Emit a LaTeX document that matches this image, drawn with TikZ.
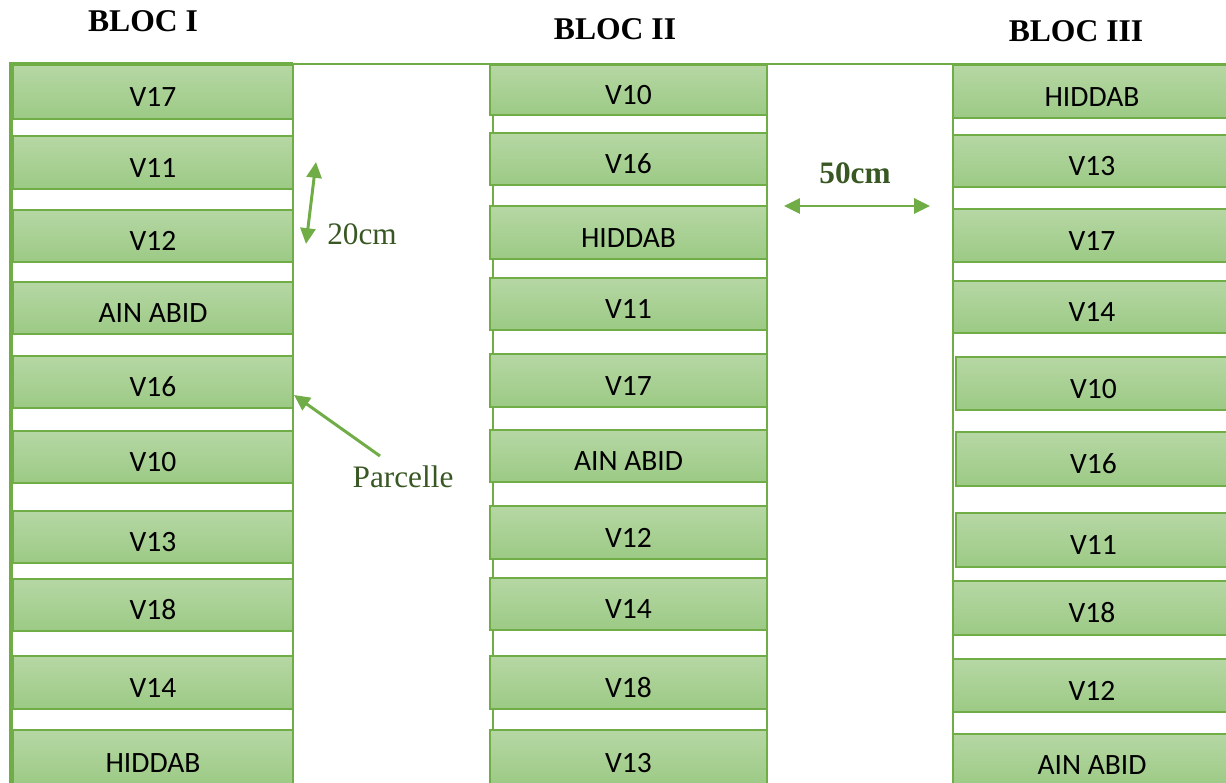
\documentclass[tikz,border=0pt]{standalone}
\usepackage{fontspec}
\setmainfont{Liberation Serif}
\newfontfamily\parcelfont{Carlito}
\usepackage{tikz}
\usetikzlibrary{
    arrows.meta,
    positioning
}
\definecolor{grline}{HTML}{70AD47}
\definecolor{grtop}{HTML}{B6D7A4}
\definecolor{grbot}{HTML}{9CCA85}
\definecolor{grtext}{HTML}{385723}

\begin{document}
\begin{tikzpicture}[x=0.02cm, y=-0.02cm, >={Triangle[length=9pt, width=8.5pt]},
    parcel/.style={draw=grline, line width=0.8pt, top color=grtop, bottom color=grbot,
        inner sep=0pt, text height=17pt, text depth=0pt,
        font=\parcelfont\fontsize{16.8}{19}\selectfont},
    bloc/.style={draw=grline, line width=1pt},
    bloctitle/.style={font=\bfseries\fontsize{18}{21}\selectfont},
    annot/.style={text=grtext, font=\fontsize{17.8}{21}\selectfont},
    dimarrow/.style={draw=grline, line width=1.7pt}]
    \clip (0,0) rectangle (1226,783);

    % contours des blocs
    \draw[bloc] (11,64) rectangle (293,800);
    \draw[bloc] (493,64) rectangle (767,800);
    \draw[bloc] (953,64) rectangle (1250,800);
    \draw[bloc] (10,64) -- (1226,64);
    \draw[grline, line width=2.2pt] (293,64) -- (11,64) -- (11,800);

    % parcelles
    \foreach \lab/\t/\b [count=\i] in {V17/65/119, V11/136/189, V12/210/262,
        AIN ABID/282/334, V16/356/408, V10/431/483, V13/511/563,
        V18/579/631, V14/656/709, HIDDAB/730/785}
        \node[parcel, minimum width=5.6cm, minimum height={(\b-\t)*0.02cm}]
            (pa-\i) at (153,{(\t+\b)/2}) {\lab};
    \foreach \lab/\t/\b [count=\i] in {V10/65/115, V16/133/185, HIDDAB/206/259,
        V11/278/330, V17/354/407, AIN ABID/430/482, V12/506/559,
        V14/578/630, V18/656/709, V13/730/785}
        \node[parcel, minimum width=5.54cm, minimum height={(\b-\t)*0.02cm}]
            (pb-\i) at (628.5,{(\t+\b)/2}) {\lab};
    \foreach \lab/\l/\t/\b [count=\i] in {HIDDAB/953/65/118, V13/953/135/187,
        V17/953/209/262, V14/953/281/333, V10/956/357/410, V16/956/432/486,
        V11/956/513/567, V18/953/581/635, V12/953/659/712, AIN ABID/953/734/786}
        \node[parcel, minimum width={(1231-\l)*0.02cm}, minimum height={(\b-\t)*0.02cm}]
            (pc-\i) at ({(\l+1231)/2},{(\t+\b)/2}) {\lab};

    % titres
    \node[bloctitle] (blocI) at (143,21) {BLOC I};
    \node[bloctitle] (blocII) at (615,29) {BLOC II};
    \node[bloctitle] (blocIII) at (1076,31) {BLOC III};

    % cotes
    \coordinate (H1) at (316,162);
    \coordinate (H2) at (306,244);
    \draw[dimarrow, <->] (H1) -- (H2);
    \node[annot] (haut) at (362,234) {20cm};

    \coordinate (E1) at (784,206);
    \coordinate (E2) at (930,206);
    \draw[dimarrow, <->] (E1) -- (E2);
    \node[annot, font=\bfseries\fontsize{17.8}{21}\selectfont] (ecart) at (855,173) {50cm};

    \node[annot] (parc) at (403,477) {Parcelle};
    \coordinate (P1) at (380,456);
    \coordinate (P2) at (294,395);
    \draw[dimarrow, ->] (P1) -- (P2);
\end{tikzpicture}
\end{document}
